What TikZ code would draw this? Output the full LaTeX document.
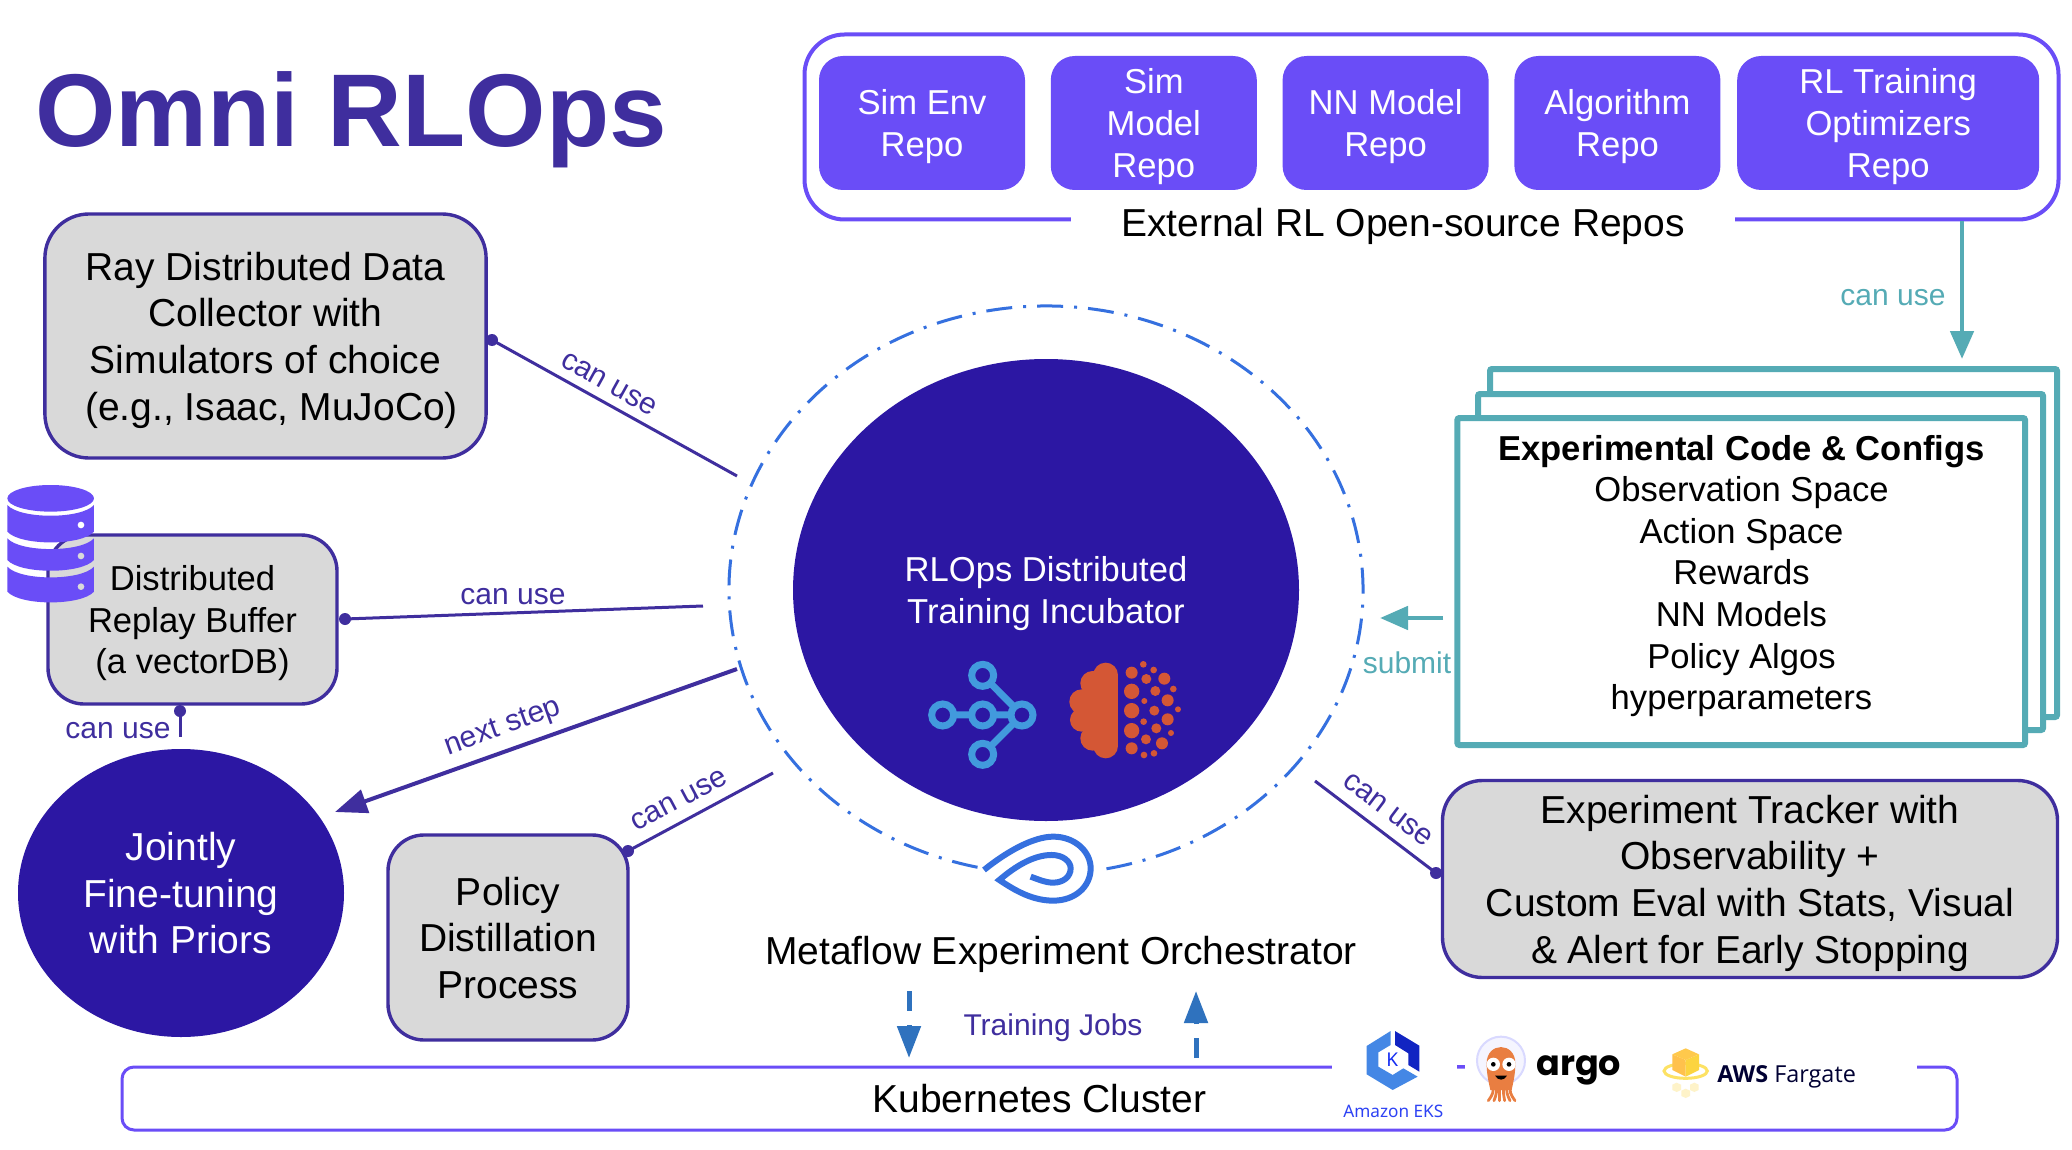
\documentclass[tikz,border=0pt]{standalone}
\usepackage{fontspec}
\setmainfont{Liberation Sans}
\newfontfamily\argofont{Poppins}
\newfontfamily\awsfont{Open Sans}
\newfontfamily\eksfont{Noto Sans}
\usetikzlibrary{arrows.meta, positioning, shapes.geometric, calc}
\definecolor{inkpurple}{HTML}{3F2E9E}
\definecolor{deeppurple}{HTML}{2C17A3}
\definecolor{repopurple}{HTML}{6A4DF7}
\definecolor{boxgray}{HTML}{D9D9D9}
\definecolor{tealline}{HTML}{55ABB5}
\definecolor{orbitblue}{HTML}{3570DF}
\definecolor{jobblue}{HTML}{2F72BE}
\definecolor{netblue}{HTML}{429ADD}
\definecolor{brainorange}{HTML}{D45735}
\tikzset{
  bigtext/.style={font=\fontsize{19.5}{23.3}\selectfont},
  midtext/.style={font=\fontsize{17.3}{20.8}\selectfont},
  usetext/.style={font=\fontsize{15}{18}\selectfont, text=inkpurple, inner sep=0pt},
  graybox/.style={draw=inkpurple, fill=boxgray, line width=1.7pt, align=center, inner sep=0pt, text depth=0pt, bigtext},
  repobox/.style={fill=repopurple, text=white, rounded corners=12pt, align=center, inner sep=0pt, text depth=0pt, midtext, minimum height=67pt},
  darkblob/.style={ellipse, fill=deeppurple, text=white, align=center, inner sep=0pt, text depth=0pt},
  configframe/.style={draw=tealline, fill=white, line width=3pt, rounded corners=1pt, inner sep=0pt},
  jointdot/.style={circle, fill=inkpurple, minimum size=6pt, inner sep=0pt},
  useline/.style={draw=inkpurple, line width=1.5pt},
  tealarrow/.style={draw=tealline, line width=2.4pt, -{Triangle[length=14pt, width=11.5pt]}},
  jobarrow/.style={draw=jobblue, line width=2.5pt, dash pattern=on 10pt off 7pt, -{Triangle[length=16pt, width=11.5pt]}},
  gapmask/.style={fill=white, inner sep=0pt, minimum height=6pt}
}
\begin{document}
\begin{tikzpicture}[x=0.5pt, y=0.5pt, node distance=12.5pt]
\useasboundingbox (0,0) rectangle (2072,-1150);
\fill[white] (0,0) rectangle (2072,-1150);
\node[text=inkpurple, font=\fontsize{51.7}{60}\selectfont\bfseries] (title) at (351,-120) {Omni RLOps};
% open-source repos on top
\node[draw=repopurple, line width=2pt, rounded corners=20pt, minimum width=627pt, minimum height=92.5pt] (repos) at (1431.5,-127) {};
\node[repobox, minimum width=103pt] (simenv) at (922,-123) {Sim Env\\Repo};
\node[repobox, minimum width=103pt, right=of simenv] (simmodel) {Sim\\Model\\Repo};
\node[repobox, minimum width=103pt, right=of simmodel] (nnmodel) {NN Model\\Repo};
\node[repobox, minimum width=103pt, right=of nnmodel] (algo) {Algorithm\\Repo};
\node[repobox, minimum width=151pt, right=8pt of algo] (optim) {RL Training\\Optimizers\\Repo};
\node[fill=white, bigtext, inner sep=0pt, minimum width=332pt, minimum height=22pt] (reposlabel) at (1403,-226) {External RL Open-source Repos};
% left side boxes
\node[graybox, rounded corners=22pt, minimum width=220.6pt, minimum height=122pt] (ray) at (265.5,-336) {Ray Distributed Data\\Collector with\\Simulators of choice\\\hspace*{6pt}(e.g., Isaac, MuJoCo)};
\node[graybox, midtext, rounded corners=18pt, minimum width=144.5pt, minimum height=84.5pt] (replay) at (192.5,-619.5) {Distributed\\Replay Buffer\\(a vectorDB)};
\node[darkblob, bigtext, minimum width=163pt, minimum height=144pt] (jointly) at (181,-893) {Jointly\\Fine-tuning\\with Priors};
\node[graybox, rounded corners=18pt, minimum width=120pt, minimum height=102.5pt] (policy) at (508,-937.5) {Policy\\Distillation\\Process};
% incubator in the middle
\node[darkblob, midtext, minimum width=253pt, minimum height=231pt] (incubator) at (1046,-590) {RLOps Distributed\\Training Incubator};
\draw[orbitblue, line width=1.5pt, dash pattern=on 13pt off 5.5pt on 1.5pt off 5.5pt] ([shift={(-79:317 and 284)}]incubator.center) arc[start angle=-79, end angle=258.6, x radius=317, y radius=284];
\node[bigtext] (metaflow) at (1061,-954) {Metaflow Experiment Orchestrator};
% config stack
\node[configframe, minimum width=283.5pt, minimum height=174pt] (backframe) at (1773.5,-543) {};
\node[configframe, minimum width=282.5pt, minimum height=168pt] (midframe) at (1760.5,-562) {};
\node[configframe, minimum width=283.8pt, minimum height=163.5pt] (frontframe) at (1741.2,-581.5) {};
\node[midtext, align=center, inner sep=0pt] (configs) at (1741.5,-576) {\textbf{Experimental Code \& Configs}\\Observation Space\\Action Space\\Rewards\\NN Models\\Policy Algos\\hyperparameters};
\node[graybox, rounded corners=20pt, minimum width=307.5pt, minimum height=98.5pt] (tracker) at (1750,-879) {Experiment Tracker with\\Observability +\\Custom Eval with Stats, Visual\\\& Alert for Early Stopping};
% kubernetes frame and its logos
\node[draw=repopurple, line width=1.5pt, rounded corners=6pt, bigtext, text depth=0pt, minimum width=917.5pt, minimum height=31.5pt] (kube) at (1039.5,-1098.5) {Kubernetes Cluster};
\node[gapmask, minimum width=62.5pt] (gapleft) at (1394.5,-1067) {};
\node[gapmask, minimum width=226pt] (gapright) at (1691,-1067) {};
% free ends
\coordinate (rayend) at (737,-476);
\coordinate (replayend) at (703,-606);
\coordinate (finetuneend) at (180,-737);
\coordinate (policyend) at (773,-773);
\coordinate (trackerend) at (1315,-781);
\coordinate (nextstart) at (737,-669);
\coordinate (nextend) at (335,-812);
\coordinate (stacktop) at (1962,-359);
\coordinate (submitstart) at (1443,-618);
\coordinate (submitend) at (1380,-618);
\coordinate (jobdownstart) at (909,-991);
\coordinate (jobdownend) at (909,-1058);
\coordinate (jobupstart) at (1196,-1058);
\coordinate (jobupend) at (1196,-991);
\node[jointdot] (raydot) at (492,-340) {};
\node[jointdot] (replaydot) at (345,-619) {};
\node[jointdot] (finetunedot) at (180,-711) {};
\node[jointdot] (policydot) at (628,-851) {};
\node[jointdot] (trackerdot) at (1436,-873) {};
\draw[useline] (raydot.center) -- (rayend);
\draw[useline] (replaydot.center) -- (replayend);
\draw[useline] (finetunedot.center) -- (finetuneend);
\draw[useline] (policydot.center) -- (policyend);
\draw[useline] (trackerdot.center) -- (trackerend);
\draw[draw=inkpurple, line width=2pt, -{Triangle[length=16pt, width=12pt]}] (nextstart) -- (nextend);
\draw[tealarrow] (repos.south -| stacktop) -- (stacktop);
\draw[tealarrow] (submitstart) -- (submitend);
\draw[jobarrow] (jobdownstart) -- (jobdownend);
\draw[jobarrow] (jobupstart) -- (jobupend);
\node[usetext, rotate=-29] (raylabel) at (609,-384) {can use};
\node[usetext] (replaylabel) at (513,-597) {can use};
\node[usetext] (finetunelabel) at (118,-731) {can use};
\node[usetext, rotate=20] (nextlabel) at (503,-728) {next step};
\node[usetext, rotate=28] (policylabel) at (679,-800) {can use};
\node[usetext, rotate=-37] (trackerlabel) at (1388,-810) {can use};
\node[usetext, text=tealline] (stacklabel) at (1893,-298) {can use};
\node[usetext, text=tealline] (submitlabel) at (1407,-663) {submit};
\node[usetext] (jobslabel) at (1053,-1028) {Training Jobs};
% database icon
\begin{scope}[shift={(0,-470)}, scale=0.3333]
\fill[repopurple] (152,-85) ellipse (130 and 40);
\foreach \topy/\boty in {105/185, 205/270, 290/365}
  \fill[repopurple] (22,-\topy) .. controls (60,-\topy-43) and (244,-\topy-43) .. (282,-\topy) -- (282,-\boty) .. controls (244,-\boty-43) and (60,-\boty-43) .. (22,-\boty) -- cycle;
\fill[white] (243,-165) circle (10);
\fill[boxgray] (243,-258) circle (10);
\fill[boxgray] (243,-350) circle (10);
\end{scope}
% network and brain icons
\begin{scope}[shift={(900,-640)}, scale=0.3333]
\draw[netblue, line width=3.5pt] (128,-225) -- (366,-225) (248,-106) -- (366,-225) (248,-343) -- (366,-225);
\foreach \cx/\cy in {248/106, 128/225, 248/225, 366/225, 248/343}
  \draw[netblue, fill=deeppurple, line width=3.5pt] (\cx,-\cy) circle (33);
\fill[brainorange] (580,-105) rectangle (655,-318);
\fill[brainorange] (550,-150) rectangle (600,-275);
\foreach \cx/\cy/\rr in {617/105/37, 617/318/37, 578/130/37, 578/295/37, 545/185/37, 545/240/35}
  \fill[brainorange] (\cx,-\cy) circle (\rr);
\foreach \cx/\cy/\rr in {730/73/10, 761/90/10, 695/98/18, 739/117/15, 793/116/18, 820/147/10, 695/154/23, 766/153/15, 733/183/9, 803/181/18, 834/208/9, 695/212/23, 763/212/15, 731/245/10, 803/238/18, 695/272/23, 769/265/15, 813/279/9, 738/298/15, 786/310/18, 695/325/18, 762/340/10, 732/345/10}
  \fill[brainorange] (\cx,-\cy) circle (\rr);
\draw[orbitblue, line width=3pt] (252,-690) .. controls (320,-635) and (400,-590) .. (460,-590) .. controls (525,-590) and (572,-635) .. (572,-685) .. controls (572,-740) and (525,-782) .. (460,-782) .. controls (400,-782) and (350,-755) .. (298,-720) .. controls (345,-680) and (400,-645) .. (455,-645) .. controls (490,-645) and (512,-665) .. (512,-685) .. controls (512,-710) and (490,-728) .. (460,-728) .. controls (435,-728) and (415,-718) .. (392,-710);
\end{scope}
% eks and argo logos
\begin{scope}[shift={(1340,-1015)}, scale=0.3333]
\fill[blue!20!cyan!10!orbitblue!90] (152,-48) -- (152,-90) -- (115,-112) -- (115,-155) -- (158,-180) -- (190,-160) -- (233,-185) -- (158,-225) -- (80,-178) -- (80,-93) -- cycle;
\fill[blue!60!orbitblue!80!black] (165,-48) -- (238,-92) -- (238,-170) -- (205,-150) -- (205,-115) -- (165,-90) -- cycle;
\node[text=blue!60!orbitblue, font=\eksfont\fontsize{9.5}{11}\selectfont, inner sep=0pt] (ekskay) at (157,-135) {K};
\node[text=blue!60!orbitblue!90, font=\eksfont\fontsize{8.6}{10}\selectfont, inner sep=0pt] (ekslabel) at (160,-288) {Amazon EKS};
\fill[repopurple] (352,-151) rectangle (376,-159);
\draw[blue!15!white, fill=blue!4!white, line width=1pt] (483,-137) circle (72);
\fill[brainorange!60!orange!85] (440,-145) .. controls (440,-80) and (526,-80) .. (526,-145) .. controls (526,-180) and (520,-200) .. (515,-225) -- (451,-225) .. controls (446,-200) and (440,-180) .. (440,-145) -- cycle;
\foreach \tipx/\midx in {445/460, 462/470, 478/478, 494/490, 510/500, 525/510}
  \draw[brainorange!60!orange!85, line width=1.4pt, line cap=round] (\midx,-205) .. controls (\midx,-235) .. (\tipx,-257);
\foreach \eyex in {460, 507}{
  \fill[white] (\eyex,-148) circle (20);
  \fill[black] (\eyex,-148) circle (7);
}
\fill[black] (465,-182) .. controls (475,-198) and (492,-198) .. (501,-182) -- cycle;
\node[font=\argofont\fontsize{17.5}{20}\selectfont\bfseries, inner sep=0pt] (argolabel) at (716,-165) {argo};
\end{scope}
% fargate logo
\begin{scope}[shift={(1640,-1015)}, scale=0.3333]
\foreach \cx/\cy in {110/217, 137/235, 163/217}
  \fill[yellow!60!orange!20!white] (\cx-13,-\cy+8) -- (\cx,-\cy+14) -- (\cx+13,-\cy+8) -- (\cx+13,-\cy-8) -- (\cx,-\cy-14) -- (\cx-13,-\cy-8) -- cycle;
\draw[yellow!70!orange!60!white, line width=1.5pt] (137,-168) ellipse (65 and 22);
\fill[orange!70!yellow!70] (97,-118) -- (137,-135) -- (137,-185) -- (97,-165) -- cycle;
\fill[yellow!60!orange!75] (177,-118) -- (137,-135) -- (137,-185) -- (177,-165) -- cycle;
\fill[orange!60!yellow!70] (137,-100) -- (177,-118) -- (137,-135) -- (97,-118) -- cycle;
\node[text=black!80!blue, font=\awsfont\fontsize{11.7}{14}\selectfont, inner sep=0pt] (fargatelabel) at (440,-187) {\textbf{AWS} Fargate};
\end{scope}
\end{tikzpicture}
\end{document}
